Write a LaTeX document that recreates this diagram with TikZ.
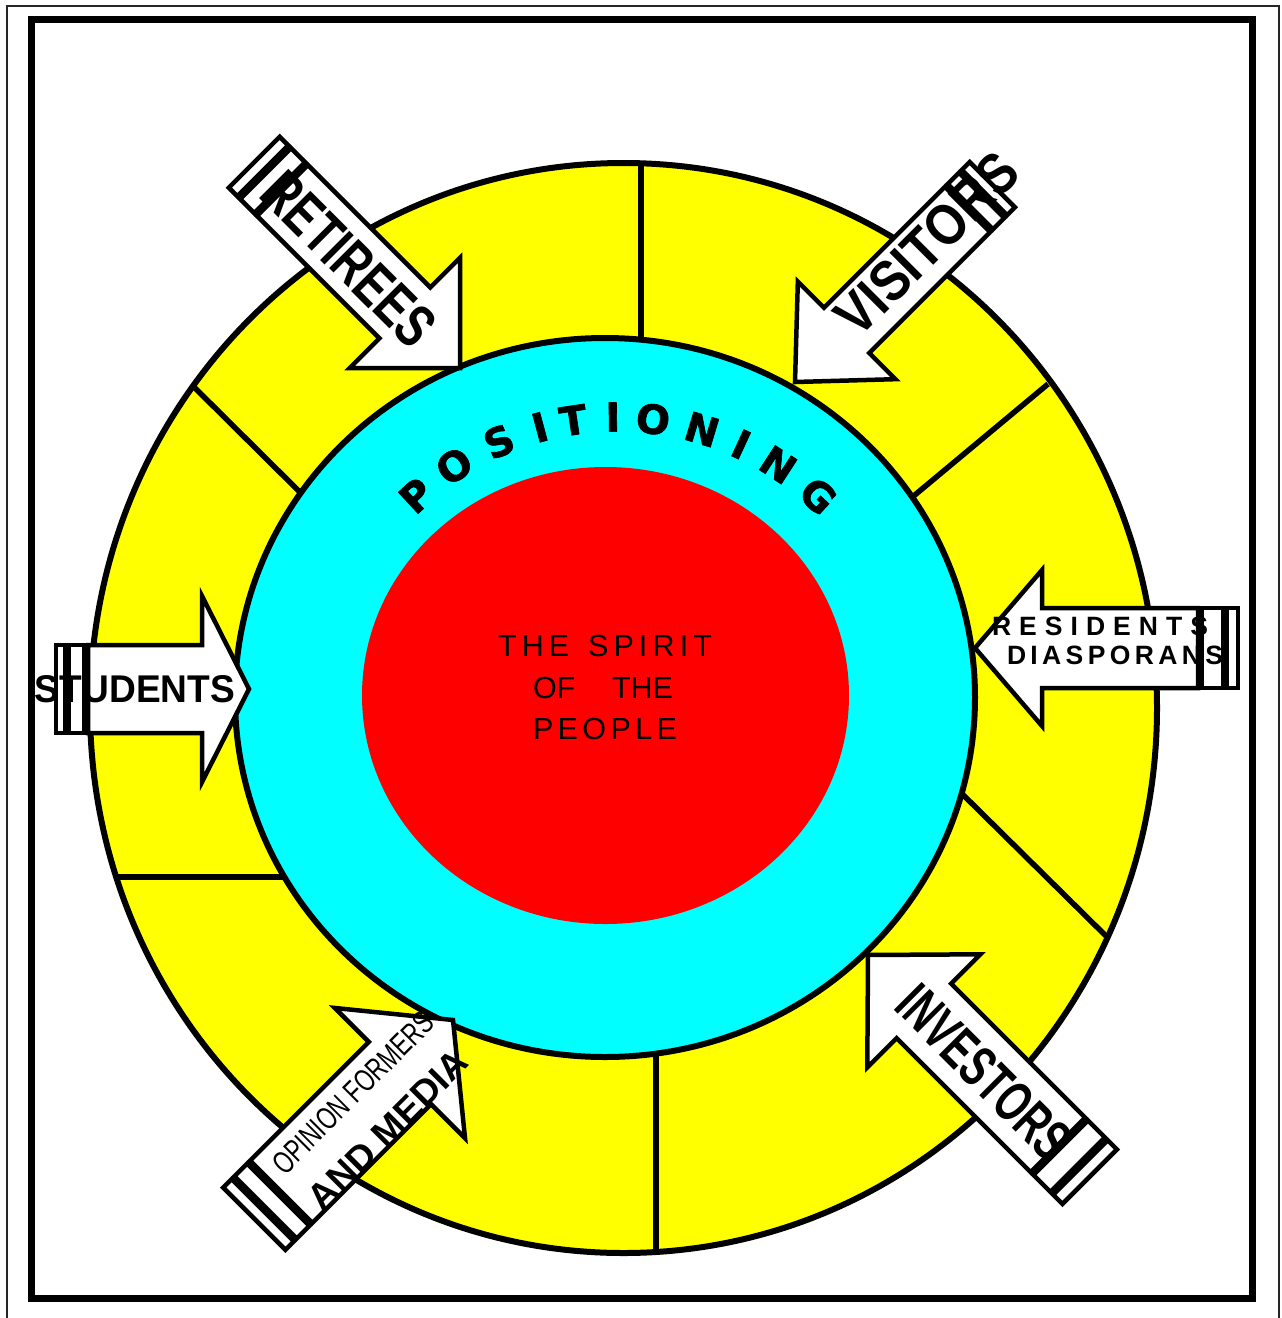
\documentclass[tikz,border=0pt]{standalone}
\usepackage{fontspec}
\setmainfont{Liberation Sans}
\newfontfamily\heavyfont{DejaVu Sans}[BoldFeatures={FakeBold=1.6}]
\usepackage{graphicx}
\definecolor{ringyellow}{RGB}{255,255,0}
\definecolor{ringcyan}{RGB}{0,255,255}
\definecolor{corered}{RGB}{255,0,0}
% tracking helper: spreads letters of #1 (spaces written as ~)
\def\trk#1{\trkA#1\relax}
\def\trkA#1{#1\trkB}
\def\trkB#1{\ifx\relax#1\else\hfil#1\expandafter\trkB\fi}
% block arrow: tip x, tip y, angle, head length, head half-width, shaft half-width, shaft length, stripe A, stripe B
\newcommand{\blockarrow}[9]{%
  \begin{scope}[shift={(#1,#2)}, rotate=#3]
    \draw[arrowbody] (0,0) -- (-#4,#5) -- (-#4,#6) -- ({-#4-#7},#6) -- ({-#4-#7},-#6) -- (-#4,-#6) -- (-#4,-#5) -- cycle;
    \draw[arrowbody] ({-#4-#7-4},#6) rectangle ({-#4-#7-4-#8},-#6);
    \draw[arrowbody] ({-#4-#7-8-#8},#6) rectangle ({-#4-#7-8-#8-#9},-#6);
  \end{scope}}
\tikzset{
  ring/.style={line width=6pt, draw=black},
  divider/.style={line width=5.5pt, draw=black},
  arrowbody/.style={line width=4.5pt, draw=black, fill=white, line join=miter},
  lbl/.style={inner sep=0pt, outer sep=0pt, text=black},
  posletter/.style={lbl, font={\heavyfont\bfseries\fontsize{40}{40}\selectfont}},
  spirit/.style={lbl, font={\fontsize{30.5}{30.5}\selectfont}},
  resid/.style={lbl, font={\bfseries\fontsize{26.5}{26.5}\selectfont}},
}
\begin{document}
\begin{tikzpicture}[x=1pt,y=-1pt]
\useasboundingbox (0,0) rectangle (1282,1318);
\fill[white] (0,0) rectangle (1282,1318);
% frames
\draw[line width=1.5pt, black!85] (7,1318) -- (7,6) -- (1279,6) -- (1279,1318);
\draw[line width=7pt] (31.5,19.5) rectangle (1252.5,1298.5);
% yellow ring
\draw[ring, fill=ringyellow] (623.5,708) ellipse [x radius=533.5pt, y radius=545pt];
% dividers
\draw[divider] (641,166) -- (641,400);
\draw[divider] (1048,384) -- (880,524);
\draw[divider] (1106,936) -- (940,772);
\draw[divider] (656,1250) -- (656,1000);
\draw[divider] (118,877) -- (320,877);
\draw[divider] (194,387) -- (330,522);
% cyan and red
\draw[ring, fill=ringcyan] (605,697.5) ellipse [x radius=370pt, y radius=359.5pt];
\fill[corered] (605.5,695.5) ellipse [x radius=243.5pt, y radius=228.5pt];
% arrows
\blockarrow{460}{368}{-45}{78}{78}{36}{173}{20}{12}
\blockarrow{795}{382}{-135}{73}{69}{32}{171}{16}{11}
\blockarrow{975}{648}{180}{67}{78}{40}{156}{21}{11}
\blockarrow{249}{689}{0}{47}{93}{44}{114}{15}{9}
\blockarrow{868}{955}{135}{79}{80}{38.5}{189.5}{24}{13}
\blockarrow{453}{1020}{45}{75}{92}{44}{168}{18}{12}
% POSITIONING
\foreach \ch/\ang [count=\i] in {P/132.7, O/123.4, S/113.5, I/105.1, T/98.5, I/90.8, O/83.0, N/73.3, I/65.2, N/57.0, G/47.2}
  \node[posletter, rotate=\ang-90] (pos\i) at ({617+296*cos(\ang)},{713-296*sin(\ang)}) {\ch};
% centre text
\node[spirit] (sp1) at (605,646) {\makebox[214pt][s]{\trk{THE~SPIRIT}}};
\node[spirit] (sp2) at (603,687.5) {\makebox[140pt][s]{OF\hfil\hspace{35pt}\hfil THE}};
\node[spirit] (sp3) at (605,729) {\makebox[144pt][s]{\trk{PEOPLE}}};
% arrow labels
\node[lbl, rotate=-45] (lretirees) at (349,259) {\resizebox{218pt}{42pt}{\bfseries RETIREES}};
\node[lbl, rotate=45] (lvisitors) at (927,244) {\resizebox{232pt}{40pt}{\bfseries VISITORS}};
\node[lbl, rotate=-45] (linvestors) at (984,1072) {\resizebox{219pt}{40pt}{\bfseries INVESTORS}};
\node[lbl, rotate=45] (lopinion) at (353,1093) {\resizebox{214pt}{22pt}{OPINION FORMERS}};
\node[lbl, rotate=45] (lmedia) at (388,1130) {\resizebox{209pt}{25pt}{\bfseries\trk{AND~MEDIA}}};
\node[lbl] (lstudents) at (135,689) {\resizebox{200pt}{27pt}{\bfseries STUDENTS}};
\node[resid] (lresidents) at (1100,626.5) {\makebox[216pt][s]{\trk{RESIDENTS}}};
\node[resid] (ldiaspora) at (1115,655.5) {\makebox[216pt][s]{\trk{DIASPORANS}}};
\end{tikzpicture}
\end{document}
